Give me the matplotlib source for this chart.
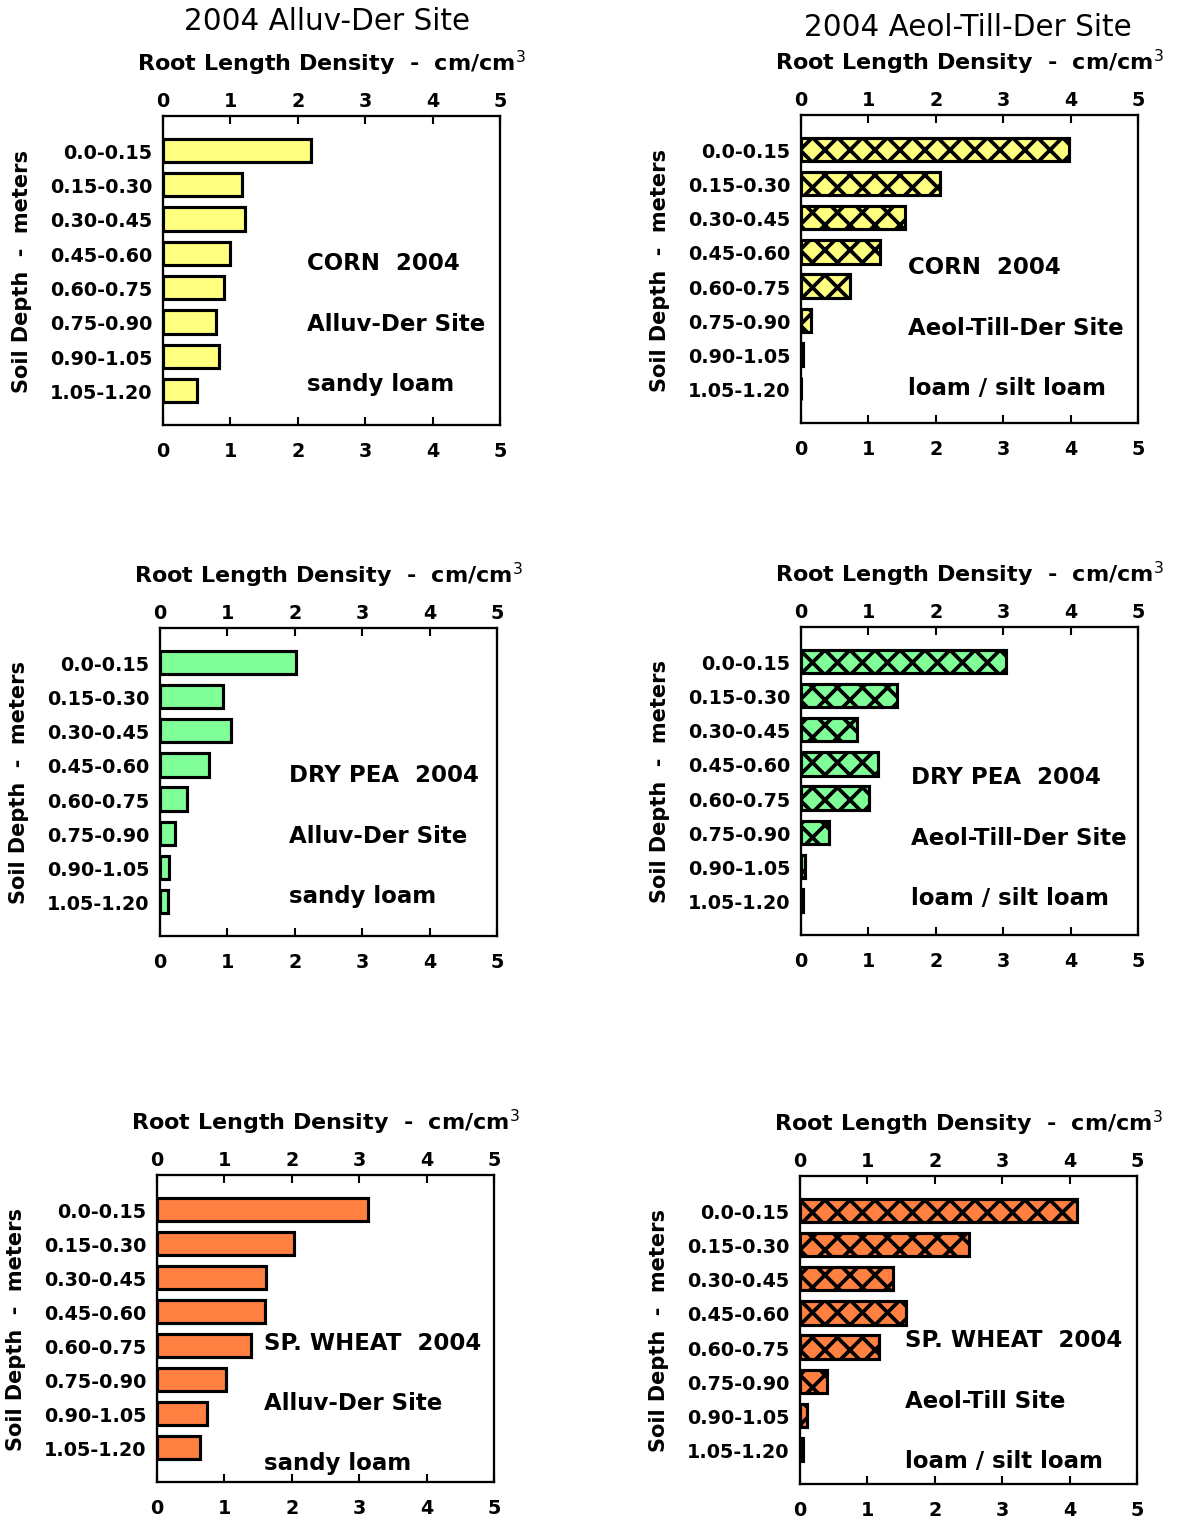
import matplotlib
matplotlib.use("Agg")
import matplotlib.pyplot as plt

plt.rcParams['font.family'] = ['DejaVu Sans']
plt.rcParams['mathtext.fontset'] = 'dejavusans'
plt.rcParams['hatch.linewidth'] = 1.8

# Soil depth layers (m) and root length density (cm/cm3) per crop and site
depths = ["0.0-0.15", "0.15-0.30", "0.30-0.45", "0.45-0.60",
          "0.60-0.75", "0.75-0.90", "0.90-1.05", "1.05-1.20"]

corn_alluv = [2.19, 1.17, 1.22, 0.99, 0.90, 0.79, 0.83, 0.50]
corn_aeol = [3.97, 2.06, 1.55, 1.17, 0.72, 0.15, 0.035, 0.0]
pea_alluv = [2.02, 0.94, 1.06, 0.73, 0.40, 0.22, 0.14, 0.12]
pea_aeol = [3.04, 1.43, 0.83, 1.14, 1.01, 0.41, 0.06, 0.03]
wheat_alluv = [3.13, 2.04, 1.61, 1.60, 1.40, 1.03, 0.74, 0.64]
wheat_aeol = [4.11, 2.50, 1.38, 1.57, 1.17, 0.40, 0.10, 0.05]

crop_names = ["CORN  2004", "DRY PEA  2004", "SP. WHEAT  2004"]
alluv_notes = ["Alluv-Der Site", "sandy loam"]
aeol_sites = ["Aeol-Till-Der Site", "Aeol-Till-Der Site", "Aeol-Till Site"]
aeol_soil = "loam / silt loam"
col_titles = ["2004 Alluv-Der Site", "2004 Aeol-Till-Der Site"]

crop_colors = ["#FFFF80", "#80FF99", "#FF8040"]

W, H = 1182, 1518
DPI = 150
fig = plt.figure(figsize=(W / DPI, H / DPI), dpi=DPI)

# frame boxes in pixels: left, right, top, bottom
boxes = [
    [(163, 500, 117, 426), (801, 1138, 116, 424)],
    [(160, 497, 629, 937), (801, 1138, 628, 936)],
    [(157, 494, 1176, 1483), (800, 1137, 1177, 1485)],
]
# note anchor: x in data units, y of first line in bar-index units
note_pos = [
    [(2.14, 3.27), (1.59, 3.44)],
    [(1.91, 3.29), (1.63, 3.38)],
    [(1.59, 3.91), (1.56, 3.79)],
]

series = [[corn_alluv, corn_aeol], [pea_alluv, pea_aeol], [wheat_alluv, wheat_aeol]]


def draw_panel(ax, values, color, hatched, notes, anchor):
    ypos = list(range(len(depths)))
    ax.barh(ypos, values, height=0.68, color=color, edgecolor='black',
            linewidth=1.5, hatch='xx' if hatched else None, zorder=1)
    ax.set_xlim(0, 5)
    ax.set_ylim(8.0, -1.0)
    ax.set_yticks(ypos)
    ax.set_yticklabels(depths, fontsize=9.2, fontweight='bold')
    ax.set_xticks(range(6))
    ax.tick_params(axis='x', direction='in', length=4, width=1,
                   top=True, bottom=True, labelsize=9.2, pad=7.5)
    ax.tick_params(axis='y', length=0, pad=5)
    for lab in ax.get_xticklabels():
        lab.set_fontweight('bold')
    for sp in ax.spines.values():
        sp.set_linewidth(1.1)

    # top scale carries its own labels and the axis title
    top = ax.secondary_xaxis('top')
    top.set_xticks(range(6))
    top.tick_params(direction='in', length=0, labelsize=9.2, pad=3)
    for lab in top.get_xticklabels():
        lab.set_fontweight('bold')
    top.set_xlabel(r'Root Length Density  -  cm/cm$^{3}$', fontsize=10.7,
                   fontweight='bold', labelpad=10)

    ax.set_ylabel('Soil Depth  -  meters', fontsize=10, fontweight='bold')
    ax.yaxis.set_label_coords(-0.39, 0.5)
    x0, y0 = anchor
    for k, txt in enumerate(notes):
        ax.text(x0, y0 + 1.76 * k, txt, fontsize=11, fontweight='bold',
                ha='left', va='center')


for r in range(3):
    for c in range(2):
        l, rt, t, b = boxes[r][c]
        ax = fig.add_axes([l / W, 1 - b / H, (rt - l) / W, (b - t) / H])
        if c == 0:
            notes = [crop_names[r]] + alluv_notes
        else:
            notes = [crop_names[r], aeol_sites[r], aeol_soil]
        draw_panel(ax, series[r][c], crop_colors[r], c == 1, notes, note_pos[r][c])

fig.text(327 / W, 1 - 21 / H, col_titles[0], fontsize=14.2, ha='center', va='center')
fig.text(968 / W, 1 - 27 / H, col_titles[1], fontsize=14.2, ha='center', va='center')

fig.savefig("out.png", dpi=DPI)
